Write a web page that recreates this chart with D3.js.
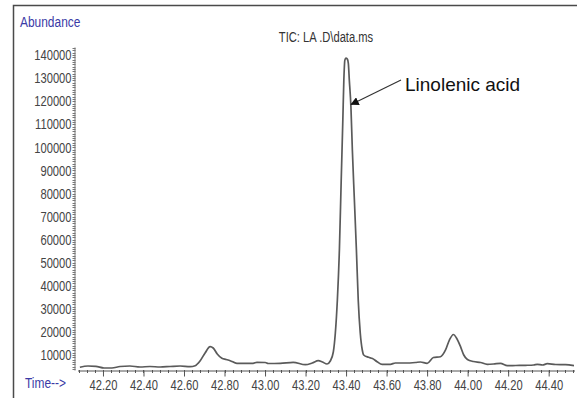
<!DOCTYPE html>
<html>
<head>
<meta charset="utf-8">
<script src="https://cdn.jsdelivr.net/npm/d3@7"></script>
<style>
  body { margin: 0; background: #fff; }
  /* no Arial Narrow here, so squeeze Liberation Sans instead */
  .narrow {
    font-family: "Liberation Sans", Arial, sans-serif;
    transform-box: fill-box;
    transform: scaleX(0.77);
  }
  .narrow-r { transform-origin: right center; }
  .narrow-c { transform-origin: center center; }
  .narrow-l { transform-origin: left center; }
</style>
</head>
<body>
<div class="chart"></div>
<script>
// Section 1: data
var times = [
  42.086, 42.126, 42.165, 42.205, 42.244, 42.284, 42.333, 42.383, 42.432, 42.482,
  42.531, 42.581, 42.630, 42.655, 42.679, 42.704, 42.729, 42.744, 42.764, 42.787,
  42.808, 42.828, 42.861, 42.902, 42.941, 42.960, 43.001, 43.016, 43.075, 43.139,
  43.199, 43.233, 43.263, 43.283, 43.306, 43.322, 43.337, 43.347, 43.357, 43.367,
  43.376, 43.384, 43.389, 43.394, 43.399, 43.406, 43.411, 43.416, 43.424, 43.431,
  43.441, 43.451, 43.460, 43.470, 43.480, 43.487, 43.511, 43.530, 43.553, 43.578,
  43.619, 43.643, 43.693, 43.742, 43.767, 43.800, 43.831, 43.866, 43.891, 43.910,
  43.930, 43.945, 43.965, 43.981, 43.999, 44.029, 44.064, 44.097, 44.128, 44.162,
  44.196, 44.237, 44.286, 44.326, 44.344, 44.370, 44.393, 44.434, 44.483, 44.525
];

var abundance = [
  4700, 5230, 5100, 4370, 4370, 5020, 5230, 4800, 5020, 4800,
  5020, 5230, 4930, 5360, 7400, 10870, 13600, 13030, 10430, 8570,
  8050, 7530, 6400, 6400, 6400, 6840, 6750, 6320, 6400, 6840,
  5800, 6530, 7530, 6970, 6100, 7400, 11300, 19530, 33830, 55500,
  85830, 111830, 129160, 137820, 138690, 138260, 136520, 129160, 117450, 98830,
  77160, 55500, 33830, 19530, 12170, 10000, 9000, 8480, 7100, 5970,
  5970, 6530, 6530, 6750, 6970, 6400, 8920, 9260, 12170, 16500,
  18880, 17370, 13600, 10000, 8050, 7180, 6750, 5970, 6100, 6400,
  5360, 5450, 5540, 5670, 5970, 5670, 6230, 5880, 5800, 5360
];

var yTicks = [10000, 20000, 30000, 40000, 50000, 60000, 70000,
  80000, 90000, 100000, 110000, 120000, 130000, 140000];
var xTicks = [42.2, 42.4, 42.6, 42.8, 43.0, 43.2, 43.4, 43.6, 43.8, 44.0, 44.2, 44.4];

var peakLabel = "Linolenic acid";
var peakTime = 43.42;
var peakValue = 116000;

// Section 2: svg setup
var svgWidth = 577;
var svgHeight = 398;

var svg = d3
  .select(".chart")
  .append("svg")
  .attr("width", svgWidth)
  .attr("height", svgHeight);

var xScale = d3.scaleLinear().domain([42.057, 44.53]).range([74, 575]);
var yScale = d3.scaleLinear().domain([3500, 143500]).range([370, 47]);

// frame (left and top edges only are visible)
svg.append("path")
  .attr("d", "M13.5,398 L13.5,5.5 L577,5.5")
  .attr("fill", "none")
  .attr("stroke", "#4a4a4a")
  .attr("stroke-width", 1.5);

// y axis: minor ticks every 1000
var yMinor = d3.range(4000, 143001, 1000);
svg.append("g")
  .selectAll("line")
  .data(yMinor)
  .enter()
  .append("line")
  .attr("x1", 72.5)
  .attr("x2", 75.5)
  .attr("y1", (d) => Math.round(yScale(d)) + 0.5)
  .attr("y2", (d) => Math.round(yScale(d)) + 0.5)
  .attr("stroke", "#777")
  .attr("stroke-width", 1);

var leftAxis = d3.axisLeft(yScale)
  .tickValues(yTicks)
  .tickSize(0)
  .tickSizeOuter(0)
  .tickPadding(3)
  .tickFormat(d3.format("d"));

var yAxis = svg.append("g")
  .attr("transform", "translate(74.5,0)")
  .call(leftAxis);

yAxis.select(".domain").attr("stroke", "#777");
yAxis.selectAll("text")
  .attr("class", "narrow narrow-r")
  .attr("font-size", "14.5px")
  .attr("fill", "#444");

// x axis: major ticks every 0.2, minor every 0.04
var xMinor = d3.range(42.08, 44.53, 0.04);
svg.append("g")
  .selectAll("line")
  .data(xMinor)
  .enter()
  .append("line")
  .attr("x1", (d) => Math.round(xScale(d)) + 0.5)
  .attr("x2", (d) => Math.round(xScale(d)) + 0.5)
  .attr("y1", 370)
  .attr("y2", 373)
  .attr("stroke", "#555");

var bottomAxis = d3.axisBottom(xScale)
  .tickValues(xTicks)
  .tickSize(6)
  .tickSizeOuter(0)
  .tickPadding(3)
  .tickFormat(d3.format(".2f"));

var xAxis = svg.append("g")
  .attr("transform", "translate(0,370.5)")
  .call(bottomAxis);

xAxis.select(".domain").attr("stroke", "#555").attr("d", "M78,0.5H575");
xAxis.selectAll(".tick line").attr("stroke", "#555");
xAxis.selectAll("text")
  .attr("class", "narrow narrow-c")
  .attr("font-size", "14.5px")
  .attr("fill", "#444");

// trace
var trace = times.map((t, i) => [t, abundance[i]]);

var line = d3.line()
  .x((d) => xScale(d[0]))
  .y((d) => yScale(d[1]))
  .curve(d3.curveMonotoneX);

svg.append("path")
  .datum(trace)
  .attr("d", line)
  .attr("fill", "none")
  .attr("stroke", "#5a5a5a")
  .attr("stroke-width", 1.7)
  .attr("stroke-linejoin", "round");

// labels
svg.append("text")
  .attr("class", "narrow narrow-l")
  .attr("x", 20)
  .attr("y", 27)
  .attr("font-size", "15.5px")
  .attr("fill", "#3a3aa6")
  .text("Abundance");

svg.append("text")
  .attr("class", "narrow narrow-l")
  .attr("x", 25)
  .attr("y", 388)
  .attr("font-size", "15.5px")
  .attr("fill", "#3a3aa6")
  .text("Time-->");

svg.append("text")
  .attr("class", "narrow narrow-c")
  .attr("x", 326)
  .attr("y", 42)
  .attr("text-anchor", "middle")
  .attr("font-size", "14.5px")
  .attr("fill", "#333")
  .text("TIC: LA .D\\data.ms");

// annotation arrow
svg.append("defs")
  .append("marker")
  .attr("id", "head")
  .attr("viewBox", "0 0 10 10")
  .attr("refX", 9)
  .attr("refY", 5)
  .attr("markerWidth", 7)
  .attr("markerHeight", 7)
  .attr("orient", "auto")
  .append("path")
  .attr("d", "M0,0 L10,5 L0,10 z")
  .attr("fill", "#111");

svg.append("line")
  .attr("x1", 401)
  .attr("y1", 80)
  .attr("x2", xScale(peakTime) + 1)
  .attr("y2", yScale(peakValue) - 6)
  .attr("stroke", "#333")
  .attr("stroke-width", 1.2)
  .attr("marker-end", "url(#head)");

svg.append("text")
  .attr("x", 405)
  .attr("y", 91)
  .attr("font-family", "'Liberation Sans', Arial, sans-serif")
  .attr("font-size", "19px")
  .attr("fill", "#111")
  .text(peakLabel);
</script>
</body>
</html>
